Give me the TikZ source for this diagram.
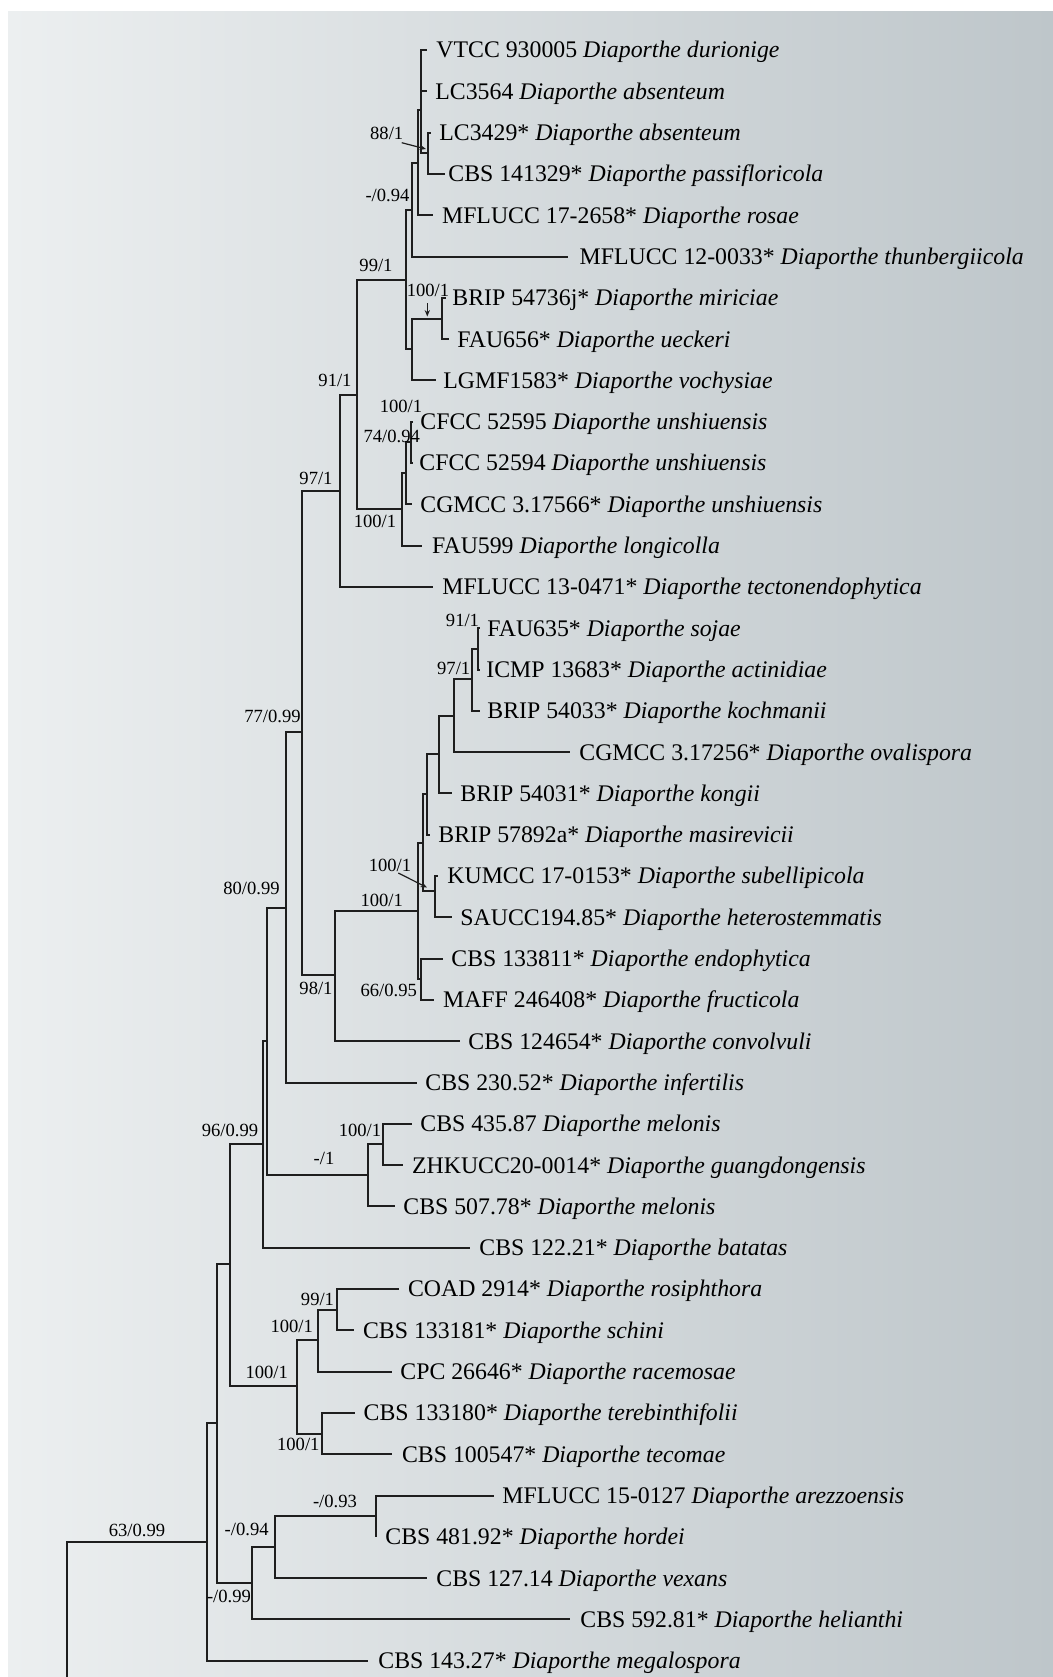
\documentclass[tikz,border=0pt]{standalone}
\usepackage{fontspec}
\setmainfont{Liberation Serif}
\usetikzlibrary{arrows.meta}
\definecolor{bgL}{RGB}{236,239,240}
\definecolor{bgM}{RGB}{222,227,229}
\definecolor{bgR}{RGB}{190,198,202}
\definecolor{linec}{RGB}{30,30,30}
\newcommand\taxname[2]{#1 \textit{Diaporthe #2}}
\begin{document}
\begin{tikzpicture}[x=0.5pt,y=-0.5pt,
  br/.style={line width=1pt, draw=linec},
  taxon/.style={anchor=base west, inner sep=0pt, font=\fontsize{11.9}{14}\selectfont, text=black},
  bs/.style={inner sep=0pt, font=\fontsize{9.3}{11}\selectfont, text=black},
  arr/.style={line width=0.6pt, draw=linec, -{Stealth[length=3.2pt,width=2.6pt]}}]
\useasboundingbox (0,0) rectangle (1053,1677);
\fill[white] (0,0) rectangle (1053,1677);
\shade[left color=bgL, middle color=bgM, right color=bgR] (8,11) rectangle (1053,1677);

% internal nodes (x of vertical, y of incoming branch)
\coordinate (root) at (66.7,1700);
\coordinate (GG) at (206.7,1541.7);
\coordinate (FF) at (216.7,1422.7);
\coordinate (BB) at (230,1263.5);
\coordinate (V) at (263,1144);
\coordinate (X) at (266.7,1040.7);
\coordinate (W) at (285.7,907.5);
\coordinate (I) at (302.3,732);
\coordinate (H) at (340,491);
\coordinate (G) at (357,394.5);
\coordinate (B) at (406,280);
\coordinate (C) at (412.3,210);
\coordinate (P1) at (418.3,163.3);
\coordinate (P2) at (421,110);
\coordinate (P3) at (428.3,153.2);
\coordinate (E) at (411.7,349);
\coordinate (F) at (442,318.5);
\coordinate (J) at (401.7,509);
\coordinate (K) at (406,472.8);
\coordinate (L) at (410.7,442.2);
\coordinate (M) at (335,975);
\coordinate (N) at (418.3,910.5);
\coordinate (T) at (422.7,842.5);
\coordinate (S) at (427.3,794);
\coordinate (R) at (439.3,754);
\coordinate (Q) at (454.3,715.5);
\coordinate (P) at (471.7,679);
\coordinate (O) at (478.3,649);
\coordinate (KU) at (435,891);
\coordinate (U) at (420.7,978.5);
\coordinate (Y) at (368.3,1175);
\coordinate (Z) at (383.3,1144.4);
\coordinate (AA) at (296.7,1385.7);
\coordinate (CC) at (318.3,1340);
\coordinate (DD) at (337.3,1309.6);
\coordinate (EE) at (321.7,1433.6);
\coordinate (HH) at (251.7,1582.7);
\coordinate (II) at (275,1546.5);
\coordinate (JJ) at (376,1516);

% internal branches
\draw[br] (root) |- (GG);
\draw[br] (GG) |- (FF);
\draw[br] (FF) |- (BB);
\draw[br] (FF) |- (HH);
\draw[br] (BB) |- (V);
\draw[br] (BB) |- (AA);
\draw[br] (V) |- (X);
\draw[br] (X) |- (W);
\draw[br] (X) |- (Y);
\draw[br] (W) |- (I);
\draw[br] (I) |- (H);
\draw[br] (I) |- (M);
\draw[br] (H) |- (G);
\draw[br] (G) |- (B);
\draw[br] (G) |- (J);
\draw[br] (B) |- (C);
\draw[br] (B) |- (E);
\draw[br] (C) |- (P1);
\draw[br] (P1) |- (P2);
\draw[br] (P2) |- (P3);
\draw[br] (E) |- (F);
\draw[br] (J) |- (K);
\draw[br] (K) |- (L);
\draw[br] (M) |- (N);
\draw[br] (N) |- (T);
\draw[br] (N) |- (U);
\draw[br] (T) |- (S);
\draw[br] (T) |- (KU);
\draw[br] (S) |- (R);
\draw[br] (R) |- (Q);
\draw[br] (Q) |- (P);
\draw[br] (P) |- (O);
\draw[br] (Y) |- (Z);
\draw[br] (AA) |- (CC);
\draw[br] (AA) |- (EE);
\draw[br] (CC) |- (DD);
\draw[br] (HH) |- (II);
\draw[br] (II) |- (JJ);

% tips: \tip{id}{parent}{tipx}{textx}{y}{code}{species}
\newcommand\tip[7]{%
  \coordinate (t#1) at (#3,#5);
  \draw[br] (#2) |- (t#1);
  \node[taxon] (n#1) at (#4,#5+7.9) {\taxname{#6}{#7}};}
\tip{1}{P2}{427}{436}{50}{VTCC 930005}{durionige}
\tip{2}{P2}{427}{435}{91.3}{LC3564}{absenteum}
\tip{3}{P3}{431}{439}{132.6}{LC3429*}{absenteum}
\tip{4}{P3}{445}{448}{173.9}{CBS 141329*}{passifloricola}
\tip{5}{P1}{433.3}{441.7}{215.2}{MFLUCC 17-2658*}{rosae}
\tip{6}{C}{568.3}{579.3}{256.5}{MFLUCC 12-0033*}{thunbergiicola}
\tip{7}{F}{445.7}{452}{297.8}{BRIP 54736j*}{miriciae}
\tip{8}{F}{449}{457}{339.1}{FAU656*}{ueckeri}
\tip{9}{E}{436}{443}{380.4}{LGMF1583*}{vochysiae}
\tip{10}{L}{413}{420}{421.7}{CFCC 52595}{unshiuensis}
\tip{11}{L}{413}{419}{463}{CFCC 52594}{unshiuensis}
\tip{12}{K}{411.7}{420}{504.3}{CGMCC 3.17566*}{unshiuensis}
\tip{13}{J}{421.7}{431.7}{545.6}{FAU599}{longicolla}
\tip{14}{H}{433}{442}{586.9}{MFLUCC 13-0471*}{tectonendophytica}
\tip{15}{O}{480}{487}{628.2}{FAU635*}{sojae}
\tip{16}{O}{480}{486}{669.5}{ICMP 13683*}{actinidiae}
\tip{17}{P}{480}{487}{710.8}{BRIP 54033*}{kochmanii}
\tip{18}{Q}{570}{579}{752.1}{CGMCC 3.17256*}{ovalispora}
\tip{19}{R}{451.7}{460}{793.4}{BRIP 54031*}{kongii}
\tip{20}{S}{430}{438}{834.7}{BRIP 57892a*}{masirevicii}
\tip{21}{KU}{438}{447}{876}{KUMCC 17-0153*}{subellipicola}
\tip{22}{KU}{451.7}{460}{917.3}{SAUCC194.85*}{heterostemmatis}
\tip{23}{U}{443.3}{451}{958.6}{CBS 133811*}{endophytica}
\tip{24}{U}{434}{442.7}{999.9}{MAFF 246408*}{fructicola}
\tip{25}{M}{460}{468}{1041.2}{CBS 124654*}{convolvuli}
\tip{26}{W}{416.7}{425}{1082.5}{CBS 230.52*}{infertilis}
\tip{27}{Z}{411.7}{420}{1123.8}{CBS 435.87}{melonis}
\tip{28}{Z}{403.3}{411.7}{1165.1}{ZHKUCC20-0014*}{guangdongensis}
\tip{29}{Y}{395}{403}{1206.4}{CBS 507.78*}{melonis}
\tip{30}{V}{470}{479}{1247.7}{CBS 122.21*}{batatas}
\tip{31}{DD}{399.3}{407.7}{1289}{COAD 2914*}{rosiphthora}
\tip{32}{DD}{354}{362.7}{1330.3}{CBS 133181*}{schini}
\tip{33}{CC}{391.7}{400}{1371.6}{CPC 26646*}{racemosae}
\tip{34}{EE}{355}{363.3}{1412.9}{CBS 133180*}{terebinthifolii}
\tip{35}{EE}{391.7}{401.7}{1454.2}{CBS 100547*}{tecomae}
\tip{36}{JJ}{494}{502}{1495.5}{MFLUCC 15-0127}{arezzoensis}
\tip{37}{JJ}{376}{385}{1536.8}{CBS 481.92*}{hordei}
\tip{38}{II}{426.5}{436}{1578.1}{CBS 127.14}{vexans}
\tip{39}{HH}{570}{580}{1619.4}{CBS 592.81*}{helianthi}
\tip{40}{GG}{368.3}{378}{1660.7}{CBS 143.27*}{megalospora}

% support labels
\node[bs] (l1) at (386.7,133.3) {88/1};
\node[bs] (l2) at (387.5,195) {-/0.94};
\node[bs] (l3) at (376,265) {99/1};
\node[bs] (l4) at (428,290) {100/1};
\node[bs] (l5) at (335,380) {91/1};
\node[bs] (l6) at (401,406.7) {100/1};
\node[bs] (l7) at (391.7,436) {74/0.94};
\node[bs] (l8) at (316,478.3) {97/1};
\node[bs] (l9) at (375,521.7) {100/1};
\node[bs] (l10) at (462.5,620) {91/1};
\node[bs] (l11) at (453.7,668.3) {97/1};
\node[bs] (l12) at (272.5,716.7) {77/0.99};
\node[bs] (l13) at (390,865) {100/1};
\node[bs] (l14) at (381.7,900) {100/1};
\node[bs] (l15) at (251.5,888) {80/0.99};
\node[bs] (l16) at (316,988.3) {98/1};
\node[bs] (l17) at (388.7,990) {66/0.95};
\node[bs] (l18) at (360,1130) {100/1};
\node[bs] (l19) at (230,1130) {96/0.99};
\node[bs] (l20) at (324,1158.3) {-/1};
\node[bs] (l21) at (317.5,1299) {99/1};
\node[bs] (l22) at (291.7,1326.7) {100/1};
\node[bs] (l23) at (266.7,1372.7) {100/1};
\node[bs] (l24) at (298.3,1444.3) {100/1};
\node[bs] (l25) at (335,1501) {-/0.93};
\node[bs] (l26) at (246.7,1529.3) {-/0.94};
\node[bs] (l27) at (137,1530) {63/0.99};
\node[bs] (l28) at (229,1596.7) {-/0.99};

% pointer arrows
\coordinate (a1s) at (401.7,142.7);
\coordinate (a1e) at (426,149);
\draw[arr] (a1s) -- (a1e);
\coordinate (a2s) at (427.3,303);
\coordinate (a2e) at (427.3,316.5);
\draw[arr] (a2s) -- (a2e);
\coordinate (a3s) at (398.3,873);
\coordinate (a3e) at (427,887.5);
\draw[arr] (a3s) -- (a3e);
\end{tikzpicture}
\end{document}
